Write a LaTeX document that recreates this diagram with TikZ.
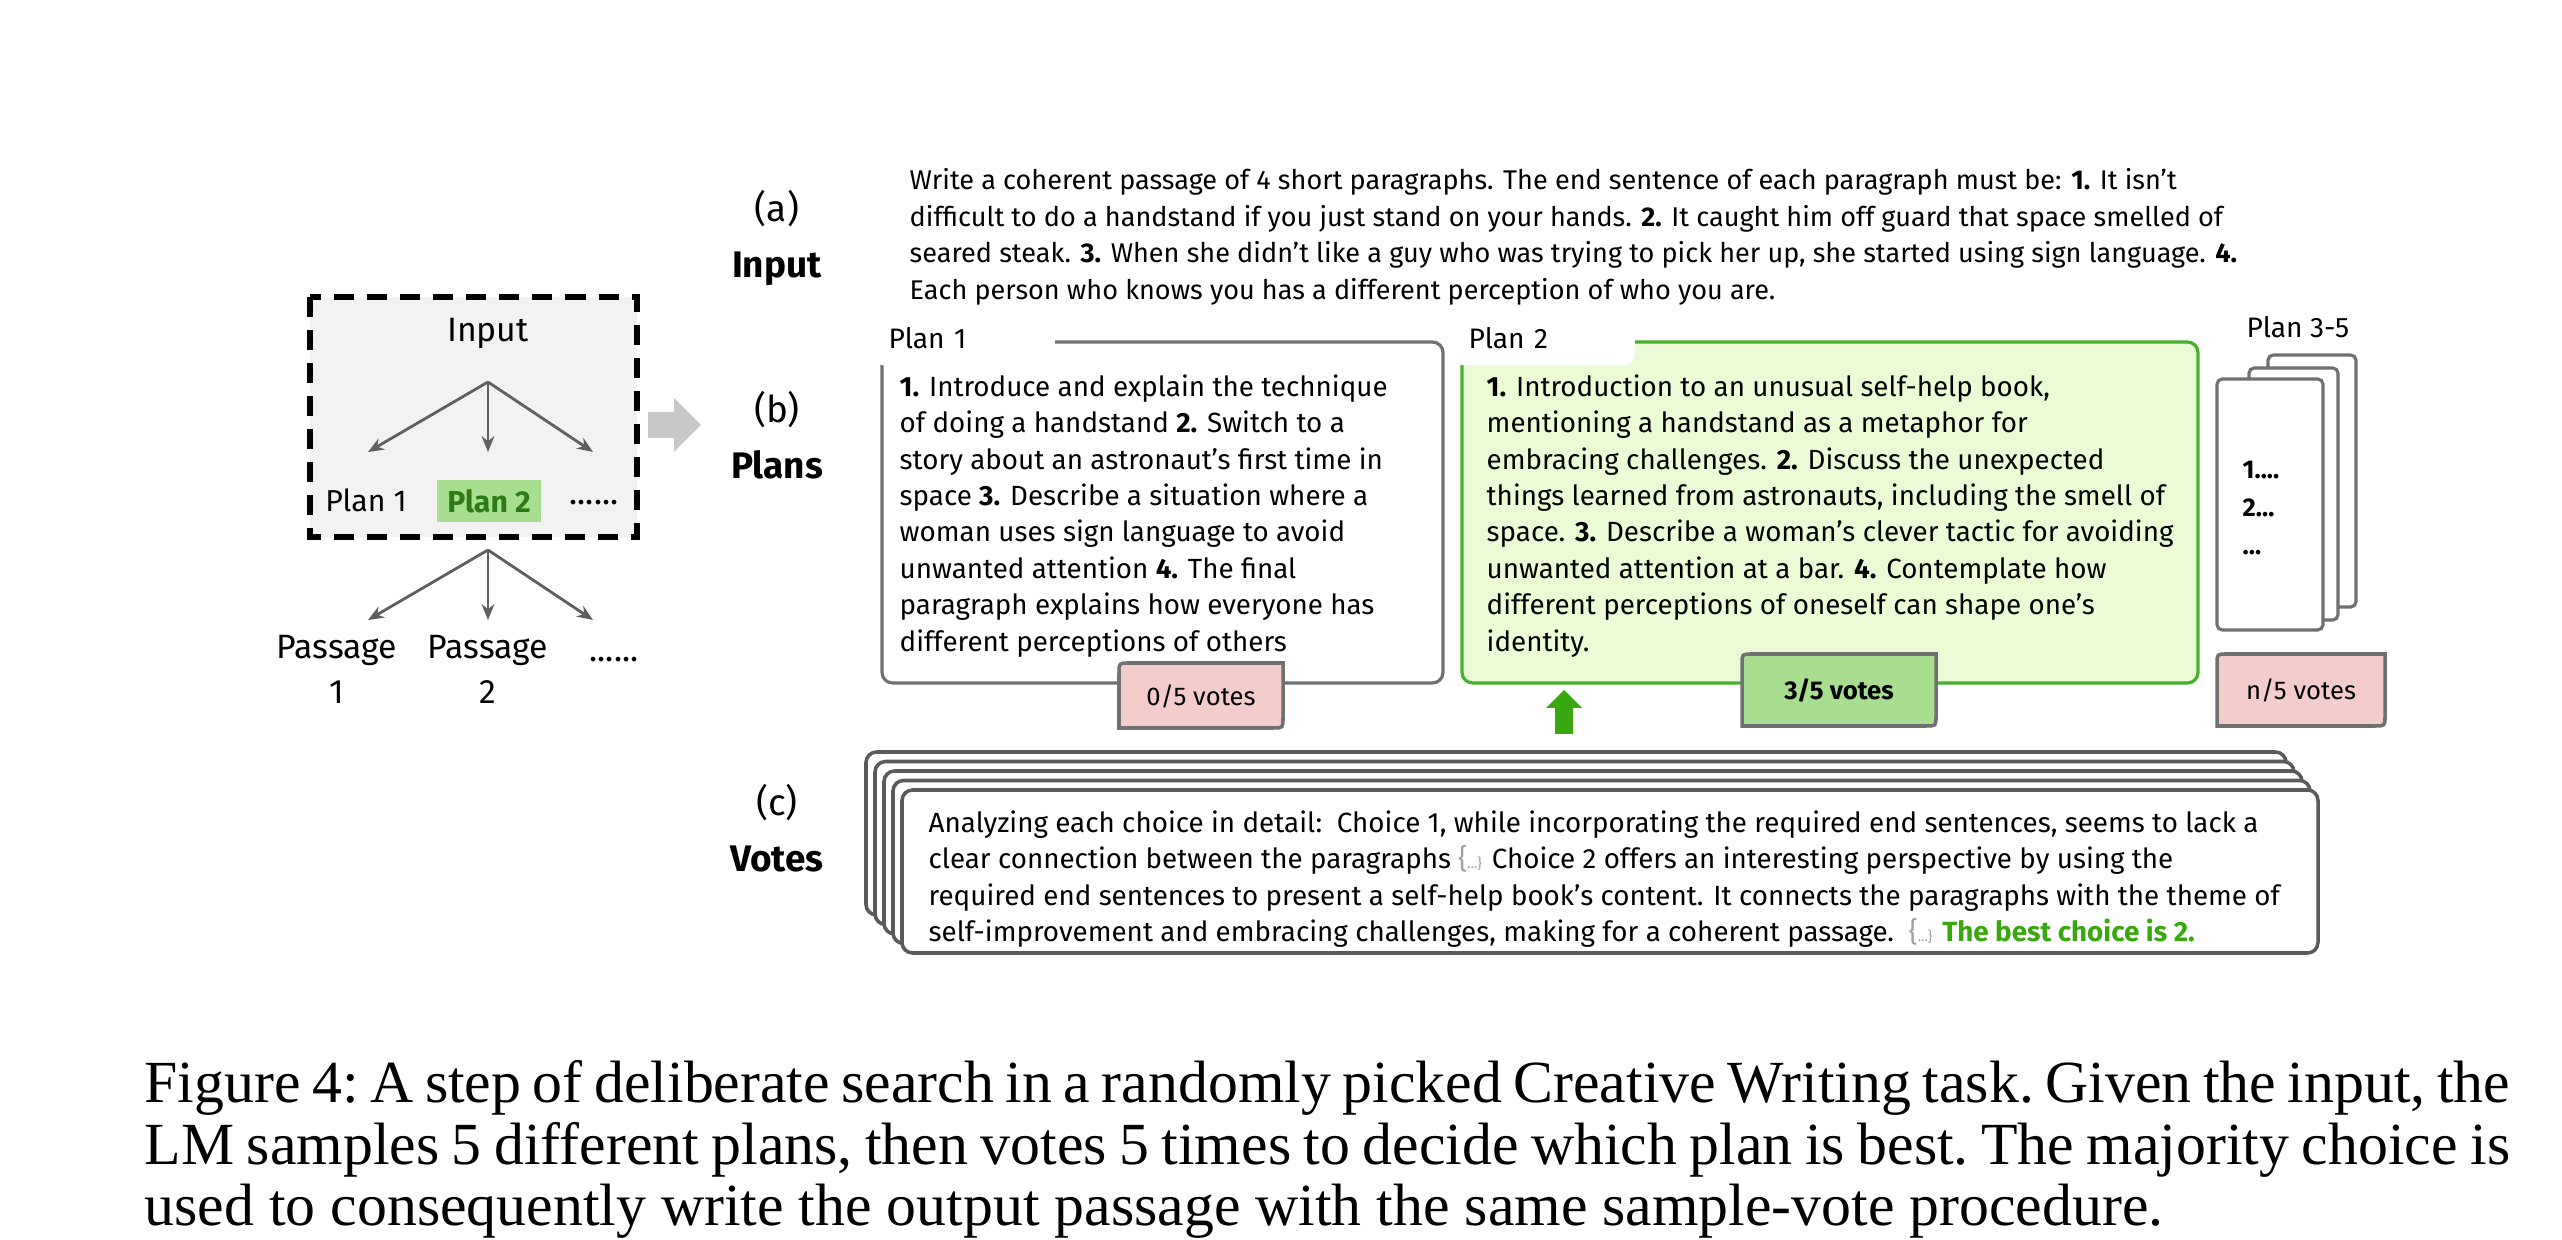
\documentclass[tikz,border=0pt]{standalone}
\usepackage{fontspec}
\setmainfont{Fira Sans}
\newfontfamily\captionserif{Liberation Serif}
\usetikzlibrary{arrows.meta,positioning,calc}
\definecolor{boxgray}{HTML}{F2F2F2}
\definecolor{treegray}{HTML}{5F5F5F}
\definecolor{edgegray}{HTML}{707070}
\definecolor{cardgray}{HTML}{5A5A5A}
\definecolor{arrowgray}{HTML}{C8C8C8}
\definecolor{planfill}{HTML}{EAFBD6}
\definecolor{planedge}{HTML}{45B02A}
\definecolor{votegreen}{HTML}{A8DE90}
\definecolor{votepink}{HTML}{F4CCCC}
\definecolor{bestgreen}{HTML}{39A80E}
\definecolor{plandark}{HTML}{2F7A17}
\definecolor{bracegray}{HTML}{A0A0A0}

\tikzset{
  treeframe/.style={draw=black, fill=boxgray, line width=1.5pt, dash pattern=on 0.2cm off 0.13cm},
  treelabel/.style={font=\fontsize{9.6}{12.8}\selectfont, align=center, inner sep=1pt},
  treearrow/.style={draw=treegray, line width=0.8pt, -{Stealth[length=4.5pt,width=3.6pt]}},
  panellabel/.style={font=\fontsize{10.5}{16}\selectfont, align=center},
  bodytext/.style={font=\fontsize{7.9}{10.35}\selectfont, align=left, inner sep=0pt, anchor=north west},
  planbox/.style={draw=edgegray, line width=0.9pt, rounded corners=3pt, fill=white},
  plantag/.style={fill=white, rounded corners=3pt, font=\fontsize{8}{9}\selectfont, anchor=south west,
    text width=1.5cm, align=left, inner xsep=0.16cm, minimum height=0.54cm},
  pagecard/.style={draw=edgegray, line width=0.9pt, rounded corners=1.5pt, fill=white},
  votecard/.style={draw=cardgray, line width=1pt, rounded corners=3pt, fill=white},
  votetab/.style={draw=edgegray, line width=1pt},
  tabtext/.style={font=\fontsize{7.3}{9}\selectfont}
}
\newcommand{\skipped}{{\color{bracegray}\{\fontsize{4}{5}\selectfont...\}}}

\begin{document}
\begin{tikzpicture}[x=0.01cm, y=-0.01cm]
  \useasboundingbox (0,0) rectangle (2562,1240);

  % Tree on the left
  \draw[treeframe] (310,297) rectangle (637,537);
  \node[treelabel] (treeinput) at (488,333) {Input};
  \coordinate (split1) at (488,382);
  \coordinate (end11) at (368,452);
  \coordinate (end12) at (488,452);
  \coordinate (end13) at (593,452);
  \node[treelabel, font=\fontsize{8.6}{10}\selectfont] (treeplan1) at (366,500) {Plan 1};
  \node[fill=votegreen, text=plandark, font=\fontsize{8.6}{10}\selectfont\bfseries,
    minimum width=1.03cm, minimum height=0.42cm, inner sep=0pt] (treeplan2) at (489,501) {Plan 2};
  \node[treelabel] (treedots1) at (594,503) {......};
  \foreach \e in {end11,end12,end13}
    \draw[treearrow] (split1) -- (\e);

  \coordinate (split2) at (488,550);
  \coordinate (end21) at (368,620);
  \coordinate (end22) at (488,620);
  \coordinate (end23) at (593,620);
  \foreach \e in {end21,end22,end23}
    \draw[treearrow] (split2) -- (\e);
  \node[treelabel] (passage1) at (337,669) {Passage\\1};
  \node[treelabel] (passage2) at (488,669) {Passage\\2};
  \node[treelabel] (treedots2) at (614,660) {......};

  % Grey arrow to the panels
  \fill[arrowgray] (648,412) -- (674,412) -- (674,398) -- (701,425) -- (674,452) -- (674,438) -- (648,438) -- cycle;

  % (a) Input
  \node[panellabel] (labela) at (777,238) {(a)\\\textbf{Input}};
  \node[bodytext, font=\fontsize{7.7}{10.35}\selectfont] (inputtext) at (909,168) {Write a coherent passage of 4 short paragraphs. The end sentence of each paragraph must be: \textbf{1.} It isn't\\
    difficult to do a handstand if you just stand on your hands. \textbf{2.} It caught him off guard that space smelled of\\
    seared steak. \textbf{3.} When she didn't like a guy who was trying to pick her up, she started using sign language. \textbf{4.}\\
    Each person who knows you has a different perception of who you are.};

  % (b) Plans
  \node[panellabel] (labelb) at (777,435) {(b)\\\textbf{Plans}};
  \draw[planbox] (882,342) rectangle (1443,683);
  \draw[planbox, draw=planedge, fill=planfill] (1462,342) rectangle (2198,683);
  \node[plantag] (tag1) at (872,366) {Plan 1};
  \node[plantag] (tag2) at (1452,366) {Plan 2};
  \node[bodytext] (plan1text) at (899,374) {\textbf{1.} Introduce and explain the technique\\
    of doing a handstand \textbf{2.} Switch to a\\
    story about an astronaut's first time in\\
    space \textbf{3.} Describe a situation where a\\
    woman uses sign language to avoid\\
    unwanted attention \textbf{4.} The final\\
    paragraph explains how everyone has\\
    different perceptions of others};
  \node[bodytext] (plan2text) at (1486,374) {\textbf{1.} Introduction to an unusual self-help book,\\
    mentioning a handstand as a metaphor for\\
    embracing challenges. \textbf{2.} Discuss the unexpected\\
    things learned from astronauts, including the smell of\\
    space. \textbf{3.} Describe a woman's clever tactic for avoiding\\
    unwanted attention at a bar. \textbf{4.} Contemplate how\\
    different perceptions of oneself can shape one's\\
    identity.};

  % Plans 3-5
  \node[font=\fontsize{8}{9}\selectfont] (plan35) at (2298,327) {Plan 3-5};
  \draw[pagecard] (2268,355) rectangle (2356,607);
  \draw[pagecard] (2249,368) rectangle (2338,620);
  \draw[pagecard] (2217,379) rectangle (2323,630);
  \node[bodytext, font=\fontsize{7.3}{10.8}\selectfont\bfseries, anchor=west] (pagelines) at (2242,508) {1....\\2...\\...};

  % Vote tabs
  \foreach \xa/\ya/\xb/\yb/\tabfill in {1119/663/1283/728/votepink, 1742/654/1936/726/votegreen, 2217/654/2385/726/votepink}
    \draw[votetab, fill=\tabfill] (\xa,\yb) -- ({\xa},{\ya+10}) .. controls (\xa,\ya) .. ({\xa+10},\ya)
      -- (\xb,\ya) -- (\xb,{\yb-10}) .. controls (\xb,\yb) .. ({\xb-10},\yb) -- cycle;
  \node[tabtext] (vote1) at (1201,696) {0/5 votes};
  \node[tabtext, font=\fontsize{7.3}{9}\selectfont\bfseries] (vote2) at (1839,690) {3/5 votes};
  \node[tabtext] (vote3) at (2301,690) {n/5 votes};
  \fill[bestgreen] (1555,734) -- (1555,708) -- (1546,708) -- (1564,690) -- (1582,708) -- (1573,708) -- (1573,734) -- cycle;

  % (c) Votes
  \node[panellabel] (labelc) at (777,828) {(c)\\\textbf{Votes}};
  \foreach \i in {0,...,4}
    \draw[votecard] ({866+9*\i},{752+9.5*\i}) rectangle ({2286+8*\i},{915+9.5*\i});
  \node[bodytext] (votetext) at (928,810) {Analyzing each choice in detail:\ \ Choice 1, while incorporating the required end sentences, seems to lack a\\
    clear connection between the paragraphs \skipped{} Choice 2 offers an interesting perspective by using the\\
    required end sentences to present a self-help book's content. It connects the paragraphs with the theme of\\
    self-improvement and embracing challenges, making for a coherent passage.\ \ \skipped{} \textcolor{bestgreen}{\textbf{The best choice is 2.}}};

  % Caption
  \node[font=\captionserif\fontsize{17}{17.5}\selectfont\frenchspacing, align=left, anchor=north west, inner sep=0pt] (caption) at (144,1060)
    {\makebox[23.64cm][s]{Figure 4: A step of deliberate search in a randomly picked Creative Writing task. Given the input, the}\\
     \makebox[23.64cm][s]{LM samples 5 different plans, then votes 5 times to decide which plan is best. The majority choice is}\\
     used to consequently write the output passage with the same sample-vote procedure.};
\end{tikzpicture}
\end{document}
